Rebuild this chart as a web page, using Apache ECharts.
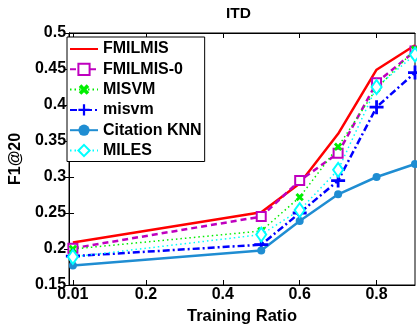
<!DOCTYPE html>
<html>
<head>
<meta charset="utf-8">
<script src="https://cdn.jsdelivr.net/npm/echarts@6/dist/echarts.min.js"></script>
<style>html,body{margin:0;padding:0;background:#fff;}#c{width:417px;height:330px;}</style>
</head>
<body>
<div id="c"></div>
<script>
var ratios = [0.01, 0.5, 0.6, 0.7, 0.8, 0.9];
var xTicks = [0.01, 0.2, 0.4, 0.6, 0.8];
var fmilmis = [0.209, 0.251, 0.291, 0.360, 0.449, 0.483];
var fmilmis0 = [0.201, 0.245, 0.295, 0.333, 0.431, 0.475];
var misvmUpper = [0.200, 0.225, 0.272, 0.342, 0.423, 0.477];
var misvmLower = [0.190, 0.206, 0.250, 0.295, 0.397, 0.445];
var citationKnn = [0.177, 0.198, 0.239, 0.276, 0.300, 0.318];
var miles = [0.189, 0.220, 0.254, 0.310, 0.425, 0.470];

var FONT = 'Liberation Sans';
function pts(ys){ return ratios.map(function(x,i){ return [x, ys[i]]; }); }
var PLUS = 'path://M4,0H6V4H10V6H6V10H4V6H0V4H4Z';
var XMARK = 'path://M3.4,0H6.6V3.4H10V6.6H6.6V10H3.4V6.6H0V3.4H3.4Z';

var chart = echarts.init(document.getElementById('c'));
var axisCommon = {
  axisLine: {show: true, lineStyle: {color: '#000', width: 1}},
  splitLine: {show: false}
};
chart.setOption({
  animation: false,
  backgroundColor: '#fff',
  title: {text: 'ITD', left: 226, top: 6, padding: 0,
    textStyle: {fontFamily: FONT, fontSize: 15.5, fontWeight: 'bold', color: '#000'}},
  grid: {left: 63, right: 2, top: 33, bottom: 42, show: true, borderColor: '#000', borderWidth: 1, backgroundColor: 'transparent'},
  legend: {
    orient: 'vertical', left: 67, top: 37,
    padding: [4, 3, 3, 2],
    itemWidth: 28, itemHeight: 14, itemGap: 4.3,
    backgroundColor: '#fff', borderColor: '#000', borderWidth: 1,
    data: [
      {name: 'FMILMIS', itemStyle: {opacity: 0}},
      'FMILMIS-0', 'MISVM', 'misvm', 'Citation KNN', 'MILES'
    ],
    textStyle: {fontFamily: FONT, fontSize: 16, fontWeight: 'bold', color: '#000', lineHeight: 16}
  },
  xAxis: [
    Object.assign({}, axisCommon, {
      type: 'value', min: 0, max: 0.9, position: 'bottom',
      name: 'Training Ratio', nameLocation: 'middle', nameGap: 23,
      nameTextStyle: {fontFamily: FONT, fontSize: 16.5, fontWeight: 'bold', color: '#000'},
      axisTick: {show: true, inside: true, length: 5, customValues: xTicks, lineStyle: {color: '#000'}},
      axisLabel: {show: true, customValues: xTicks, margin: 2, fontFamily: FONT, fontSize: 16, fontWeight: 'bold', color: '#000',
        formatter: function(v){ return String(v); }}
    }),
    Object.assign({}, axisCommon, {
      type: 'value', min: 0, max: 0.9, position: 'top',
      axisTick: {show: true, inside: true, length: 5, customValues: xTicks, lineStyle: {color: '#000'}},
      axisLabel: {show: false}
    })
  ],
  yAxis: [
    Object.assign({}, axisCommon, {
      type: 'value', min: 0.15, max: 0.5, interval: 0.05, position: 'left',
      name: 'F1@20', nameLocation: 'middle', nameGap: 40,
      nameTextStyle: {fontFamily: FONT, fontSize: 16, fontWeight: 'bold', color: '#000'},
      axisTick: {show: true, inside: true, length: 5, lineStyle: {color: '#000'}},
      axisLabel: {show: true, margin: 3, fontFamily: FONT, fontSize: 16, fontWeight: 'bold', color: '#000',
        formatter: function(v){ return String(Math.round(v*100)/100); }}
    }),
    Object.assign({}, axisCommon, {
      type: 'value', min: 0.15, max: 0.5, interval: 0.05, position: 'right',
      axisTick: {show: true, inside: true, length: 5, lineStyle: {color: '#000'}},
      axisLabel: {show: false}
    })
  ],
  series: [
    {name: 'FMILMIS', type: 'line', data: pts(fmilmis), showSymbol: false, symbol: 'none',
      lineStyle: {color: '#ff0000', width: 2.5, type: 'solid'}, itemStyle: {color: '#ff0000'}},
    {name: 'FMILMIS-0', type: 'line', data: pts(fmilmis0), symbol: 'emptyRect', symbolSize: 9,
      lineStyle: {color: '#bf00bf', width: 2.5, type: [6, 4]}, itemStyle: {color: '#bf00bf', borderWidth: 2.2}},
    {name: 'MISVM', type: 'line', data: pts(misvmUpper), symbol: XMARK, symbolSize: 9, symbolRotate: 45,
      lineStyle: {color: '#00ee00', width: 1.5, type: [1.5, 3]}, itemStyle: {color: '#00ee00'}},
    {name: 'misvm', type: 'line', data: pts(misvmLower), symbol: PLUS, symbolSize: 14,
      lineStyle: {color: '#0000ff', width: 2.5, type: [7, 3, 2, 3]}, itemStyle: {color: '#0000ff'}},
    {name: 'Citation KNN', type: 'line', data: pts(citationKnn), symbol: 'circle', symbolSize: 8,
      lineStyle: {color: '#1f8dd2', width: 2.5, type: 'solid'}, itemStyle: {color: '#1f8dd2'}},
    {name: 'MILES', type: 'line', data: pts(miles), symbol: 'emptyDiamond', symbolSize: [10, 14],
      lineStyle: {color: '#00ffff', width: 1.5, type: [1.5, 3]}, itemStyle: {color: '#00ffff', borderWidth: 2}}
  ]
});
</script>
</body>
</html>
